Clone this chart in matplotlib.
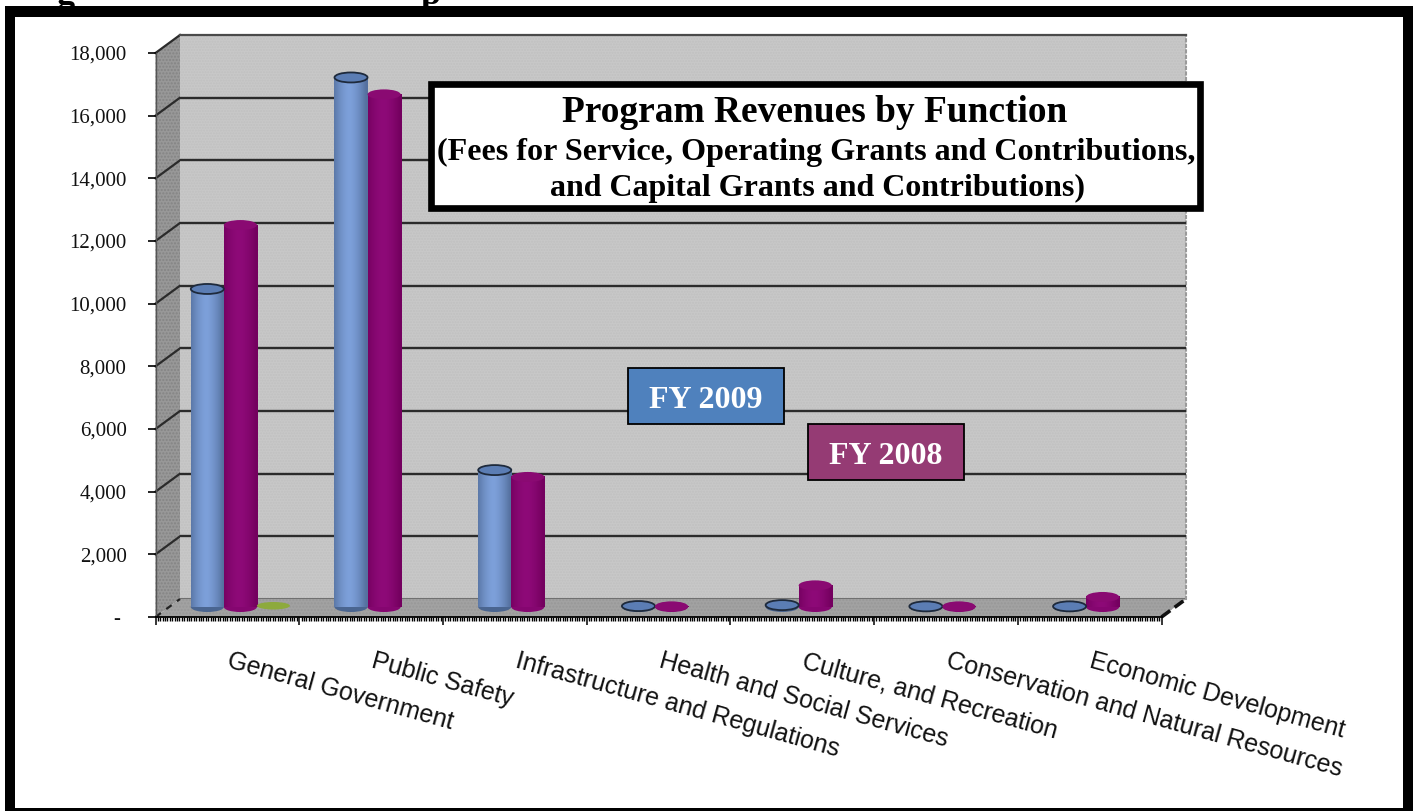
import numpy as np
import matplotlib
matplotlib.use("Agg")
import matplotlib.pyplot as plt
from matplotlib.colors import to_rgb
from matplotlib.patches import Ellipse, Polygon, Rectangle
from matplotlib.ticker import MultipleLocator

# =========================================================
#  DATOS
# =========================================================
categories = ["General Government", "Public Safety", "Infrastructure and Regulations",
              "Health and Social Services", "Culture, and Recreation",
              "Conservation and Natural Resources", "Economic Development"]
fy2009 = [10150, 16900, 4370, 30, 60, 20, 20]
fy2008 = [12190, 16360, 4150, 20, 690, 20, 320]
other = [40, 0, 0, 0, 0, 0, 0]
y_ticks = [0, 2000, 4000, 6000, 8000, 10000, 12000, 14000, 16000, 18000]
y_labels = ["- "] + [f"{v:,}" for v in y_ticks[1:]]

# =========================================================
#  GEOMETRIA (pixeles)
# =========================================================
W, H = 1413, 811
L, R, T, B = 155.5, 1161.5, 53, 617   # plano frontal
DX, DY = 24.5, 18                     # profundidad
BAR_DX, BAR_DY = 13, 10               # las barras van a media profundidad
BAR_W = 0.23
SERIF = "Liberation Serif"
SANS = "Liberation Sans"


def axes_px(left, top, right, bottom, zorder):
    a = fig.add_axes([left / W, 1 - bottom / H, (right - left) / W, (bottom - top) / H],
                     zorder=zorder)
    a.set_xlim(0, 7)
    a.set_ylim(0, 18000)
    a.patch.set_alpha(0)
    return a


fig = plt.figure(figsize=(W / 100, H / 100), dpi=100, facecolor="white")

# Capa de fondo en pixeles: marco y paredes
bg = fig.add_axes([0, 0, 1, 1], zorder=0)
bg.set_xlim(0, W)
bg.set_ylim(H, 0)
bg.axis("off")
bg.add_patch(Rectangle((5, 6), W - 5, 11, fc="black", lw=0))      # arriba
bg.add_patch(Rectangle((5, 6), 10, H - 6, fc="black", lw=0))      # izquierda
bg.add_patch(Rectangle((1403, 6), 10, H - 6, fc="black", lw=0))   # derecha
bg.add_patch(Rectangle((5, 808), W - 5, 3, fc="black", lw=0))     # abajo
bg.add_patch(Polygon([(L, T), (L + DX, T - DY), (L + DX, B - DY), (L, B)],
                     fc="#989898", ec="#848484", hatch=".....", lw=0))
bg.add_patch(Polygon([(L, B), (L + DX, B - DY), (R + DX, B - DY), (R, B)],
                     fc="#A2A2A2", ec="#989898", hatch=".....", lw=0))
# restos del encabezado cortado arriba
bg.text(66, 4, "g", fontsize=26, family=SERIF, weight="bold", ha="center", va="baseline")
bg.text(431, 4, "p", fontsize=26, family=SERIF, weight="bold", ha="center", va="baseline")

# =========================================================
#  PARED DEL FONDO
# =========================================================
back = axes_px(L + DX, T - DY, R + DX, B - DY, 1)
back.patch.set_alpha(1)
back.patch.set_facecolor("#C8C8C8")
back.add_patch(Rectangle((0, 0), 7, 18000, fc="none", ec="#C0C0C0", hatch="......", lw=0))
back.set_xticks([])
back.set_yticks(y_ticks[1:-1], labels=[])
back.tick_params(length=0)
back.grid(axis="y", color="#2B2B2B", lw=1.7)
back.set_axisbelow(False)
for side in ["left", "bottom"]:
    back.spines[side].set_visible(False)
back.spines["top"].set_color("#4A4A4A")
back.spines["top"].set_linewidth(1.6)
back.spines["right"].set_color("#9A9A9A")
back.spines["right"].set_linestyle(":")
back.spines["right"].set_linewidth(1.5)
back.axhline(0, color="#707070", lw=2.2)

# =========================================================
#  EJES FRONTALES
# =========================================================
ax = axes_px(L, T, R, B, 2)
for side in ["top", "right"]:
    ax.spines[side].set_visible(False)
ax.spines["left"].set_color("#555555")
ax.spines["left"].set_linewidth(1)
ax.spines["bottom"].set_linewidth(1.3)
ax.set_yticks(y_ticks, labels=y_labels, family=SERIF, fontsize=15, color="#111111")
ax.tick_params(axis="y", length=5.8, width=1.2, pad=15)
ax.set_xticks(range(8), labels=[])
ax.tick_params(axis="x", which="major", length=5.5, width=1.1)
ax.xaxis.set_minor_locator(MultipleLocator(1 / 60))
ax.tick_params(axis="x", which="minor", length=2.6, width=1.0)
ax.set_xlim(0, 7)
ax.set_ylim(0, 18000)

for i, name in enumerate(categories):
    ax.annotate(name, xy=(i + 0.5, 0), xytext=(3, -23), textcoords="offset points",
                rotation=-15.5, rotation_mode="anchor", ha="left", va="top",
                family=SANS, fontsize=18, color="#111111", annotation_clip=False)

# lineas diagonales de la pared izquierda y el piso
for v in y_ticks[1:]:
    y_px = B - (B - T) * v / 18000
    bg.plot([L, L + DX], [y_px, y_px - DY], color="#2B2B2B", lw=1.6)
bg.plot([L, L + DX], [B, B - DY], color="#222222", lw=1.6, ls=(0, (3, 3)))
bg.plot([R, R + DX], [B, B - DY], color="#111111", lw=2.6, ls=(0, (3, 1.5)))

# =========================================================
#  CILINDROS
# =========================================================
bars = axes_px(L + BAR_DX, T - BAR_DY, R + BAR_DX, B - BAR_DY, 3)
bars.axis("off")
CAP_H = 10 / ((B - T) / 18000)  # alto de la elipse en unidades de datos


def cylinder(a, x_center, value, edge_col, mid_col, base_col, top_col, top_edge):
    x0, x1 = x_center - BAR_W / 2, x_center + BAR_W / 2
    a.add_patch(Ellipse((x_center, 0), BAR_W, CAP_H, fc=base_col, ec="none", clip_on=False))
    t = np.linspace(-1, 1, 64)
    w = (1 - np.abs(t + 0.1) ** 1.6).clip(0, 1)
    c0, c1 = np.array(to_rgb(edge_col)), np.array(to_rgb(mid_col))
    grad = (c0[None, :] * (1 - w[:, None]) + c1[None, :] * w[:, None])[None, :, :]
    a.imshow(grad, extent=[x0, x1, 0, value], aspect="auto", zorder=2, clip_on=False,
             interpolation="bilinear")
    a.add_patch(Ellipse((x_center, value), BAR_W, CAP_H, fc=top_col, ec=top_edge, lw=1.3,
                        zorder=3, clip_on=False))


for i in range(len(categories)):
    xc = i + 0.5
    cylinder(bars, xc - BAR_W, fy2009[i], "#55719F", "#7DA0DA", "#4A6590", "#5B7DB4", "#1E2A3C")
    cylinder(bars, xc, fy2008[i], "#74005F", "#8E0A78", "#850670", "#8A0A72", "none")
    if other[i] > 0:
        bars.add_patch(Ellipse((xc + BAR_W, other[i]), BAR_W, CAP_H * 0.75,
                               fc="#8DAA3C", ec="none", clip_on=False, zorder=3))
bars.set_xlim(0, 7)
bars.set_ylim(0, 18000)

# =========================================================
#  CAJAS DE TEXTO
# =========================================================
top = fig.add_axes([0, 0, 1, 1], zorder=4)
top.set_xlim(0, W)
top.set_ylim(H, 0)
top.axis("off")
top.add_patch(Rectangle((430.5, 83.5), 769, 124, fc="white", ec="black", lw=4.8))
top.text(815, 122, "Program Revenues by Function", family=SERIF, weight="bold",
         fontsize=26.9, ha="center", va="baseline", color="black")
top.text(816, 160, "(Fees for Service, Operating Grants and Contributions,", family=SERIF,
         weight="bold", fontsize=23.1, ha="center", va="baseline", color="black")
top.text(818, 196, "and Capital Grants and Contributions)", family=SERIF, weight="bold",
         fontsize=23, ha="center", va="baseline", color="black")

top.add_patch(Rectangle((628, 368), 155.5, 55.5, fc="#4F81BD", ec="black", lw=1.3))
top.text(705.5, 408, "FY 2009", family=SERIF, weight="bold", fontsize=23,
         ha="center", va="baseline", color="white")
top.add_patch(Rectangle((808, 424), 155.5, 55.5, fc="#953B74", ec="black", lw=1.3))
top.text(885.5, 464, "FY 2008", family=SERIF, weight="bold", fontsize=23,
         ha="center", va="baseline", color="white")

plt.savefig("out.png", dpi=100)
